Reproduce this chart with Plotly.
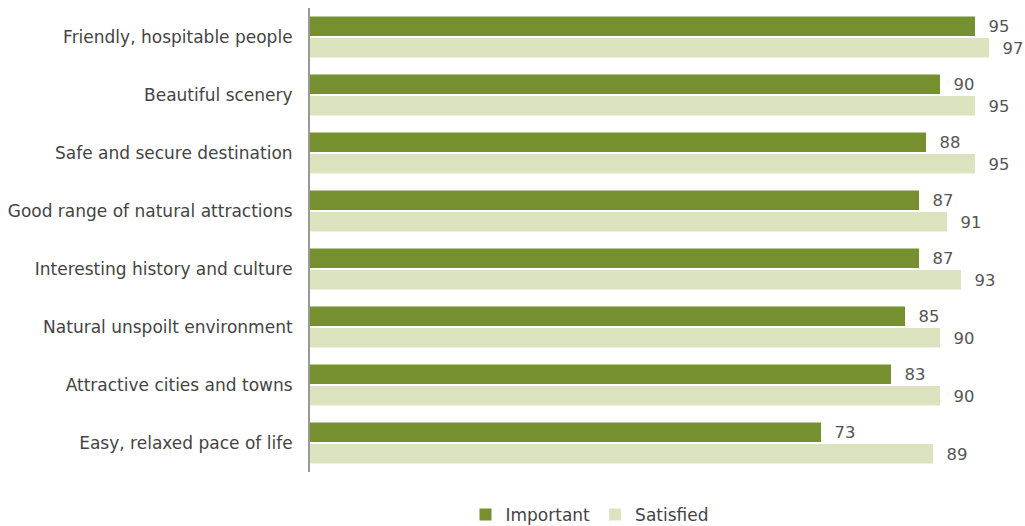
import plotly.graph_objects as go

categories = [
    "Friendly, hospitable people",
    "Beautiful scenery",
    "Safe and secure destination",
    "Good range of natural attractions",
    "Interesting history and culture",
    "Natural unspoilt environment",
    "Attractive cities and towns",
    "Easy, relaxed pace of life",
]
important = [95, 90, 88, 87, 87, 85, 83, 73]
satisfied = [97, 95, 95, 91, 93, 90, 90, 89]

font = "DejaVu Sans, Verdana, sans-serif"
fsize = 17

fig = go.Figure()
fig.add_trace(go.Bar(
    y=categories, x=important, name="Important", orientation="h",
    marker=dict(color="#76902f", line=dict(width=0)),
    text=important, texttemplate="  %{x}", textposition="outside", cliponaxis=False,
    textfont=dict(family=font, size=fsize, color="#555555"),
))
fig.add_trace(go.Bar(
    y=categories, x=satisfied, name="Satisfied", orientation="h",
    marker=dict(color="#dce4bf", line=dict(width=0)),
    text=satisfied, texttemplate="  %{x}", textposition="outside", cliponaxis=False,
    textfont=dict(family=font, size=fsize, color="#555555"),
))

fig.update_layout(
    width=1025, height=526,
    margin=dict(l=310, r=15, t=8, b=54, autoexpand=False),
    paper_bgcolor="white", plot_bgcolor="white",
    barmode="group", bargap=0.26, bargroupgap=0.1,
    font=dict(family=font, size=fsize, color="#444444"),
    xaxis=dict(range=[0, 100], showgrid=False, showticklabels=False,
               zeroline=False, showline=False, ticks=""),
    yaxis=dict(autorange="reversed", showgrid=False, showline=True,
               linecolor="#999999", linewidth=2, ticks="",
               ticklabelstandoff=12, automargin=False,
               tickfont=dict(family=font, size=fsize, color="#444444")),
    legend=dict(orientation="h", x=0.4, xanchor="center",
                yref="container", y=0.021, yanchor="middle",
                font=dict(family=font, size=fsize, color="#444444"),
                itemwidth=30),
    showlegend=True,
)

fig.write_html("out.html")
